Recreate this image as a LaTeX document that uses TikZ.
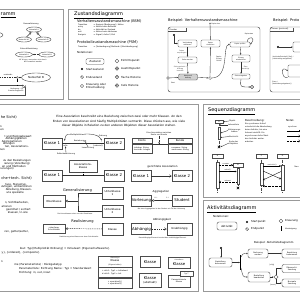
\documentclass[tikz,border=0pt]{standalone}
\usepackage{fontspec}
\setmainfont{DejaVu Sans}
\usetikzlibrary{positioning,arrows.meta,shapes.geometric}
\newcommand{\fTitle}{\fontsize{5}{6}\selectfont}
\newcommand{\fSub}{\fontsize{3.6}{4.3}\selectfont}
\newcommand{\fBox}{\fontsize{3.9}{4.6}\selectfont}
\newcommand{\fTxt}{\fontsize{2.9}{4.4}\selectfont}
\newcommand{\fSmall}{\fontsize{2.7}{3.1}\selectfont}
\newcommand{\fTiny}{\fontsize{1.9}{2.3}\selectfont}
\newcommand{\fMini}{\fontsize{1.6}{2}\selectfont}
\tikzset{
  panel/.style={draw=black!40, line width=0.9pt},
  heading/.style={font=\fTitle, anchor=west, inner sep=0pt},
  subhead/.style={font=\fSub, anchor=west, inner sep=0pt},
  cls/.style={draw=black!70, line width=0.5pt, fill=white, font=\fBox, align=center, inner sep=0pt, minimum width=20pt, minimum height=11pt},
  zstate/.style={draw=black!70, line width=0.4pt, rounded corners=1.2pt, fill=white, font=\fMini, align=center, inner sep=0.3pt},
  usecase/.style={ellipse, draw=black!70, line width=0.4pt, fill=white, font=\fMini, inner sep=0pt},
  txt/.style={font=\fTxt, align=center, inner sep=0pt},
  smalltxt/.style={font=\fSmall, inner sep=0pt},
  tnote/.style={font=\fTiny, align=center, inner sep=0pt},
  lcol/.style={font=\fSmall, anchor=east, inner sep=0pt},
  flow/.style={-{Stealth[length=1.6pt,width=1.3pt]}, line width=0.35pt, black!80},
  gen/.style={-{Triangle[open,length=2.4pt,width=2.4pt]}, line width=0.4pt, black!80},
  dot/.style={circle, fill=black, inner sep=0pt, minimum size=2.4pt},
  enddot/.style={circle, draw=black, line width=0.35pt, fill=white, inner sep=0pt, minimum size=3pt,
    path picture={\fill (path picture bounding box.center) circle (0.85pt);}},
  hollow/.style={circle, draw=black!70, line width=0.35pt, fill=white, inner sep=0pt, minimum size=2.6pt},
  pseudo/.style={circle, draw=black!70, line width=0.35pt, fill=black!15, inner sep=0pt, minimum size=3.6pt, font=\fontsize{1.8}{2}\selectfont},
  frame/.style={draw=black!70, line width=0.45pt, rounded corners=2.5pt},
  life/.style={dashed, dash pattern=on 0.8pt off 0.6pt, line width=0.3pt, black!70},
  bar/.style={draw=black!70, line width=0.35pt, fill=white, inner sep=0pt, minimum width=2.6pt},
  lifebox/.style={draw=black!70, line width=0.4pt, fill=white, font=\fTiny, inner sep=0pt, minimum width=10pt, minimum height=4pt}
}
\begin{document}
\begin{tikzpicture}[x=1pt, y=-1pt]
\useasboundingbox (0,0) rectangle (300,300);
\fill[white] (0,0) rectangle (300,300);

% Anwendungsfalldiagramm
\draw[panel] (-5,9) rectangle (63,99);
\node[heading, anchor=east] (ucTitle) at (15.8,15) {\underline{ramm}};
\draw[line width=0.4pt, black!70] (-6,35) ellipse [x radius=9, y radius=3];
\node[tnote] (ucGenLbl) at (31,23.5) {Generalisierung};
\node[usecase, minimum width=15pt, minimum height=5pt] (ucA) at (34,29.5) {Nutzerfall A};
\node[usecase, minimum width=15pt, minimum height=5pt] (ucA1) at (24,39.5) {Nutzerfall A1};
\node[usecase, minimum width=15pt, minimum height=5pt] (ucA2) at (43.5,39.5) {Nutzerfall A2};
\draw[gen] (ucA1) -- (ucA);
\draw[gen] (ucA2) -- (ucA);
\node[tnote] (ucExtLbl) at (29,49) {Extend-Beziehung};
\node[usecase, minimum width=17pt, minimum height=5pt] (ucE1) at (24,54.5) {Nutzerfall A};
\node[usecase, minimum width=16pt, minimum height=5pt] (ucE2) at (47,54.5) {Nutzerfall B};
\draw[flow, dashed, dash pattern=on 0.8pt off 0.5pt] (ucE2) -- (ucE1);
\node[tnote, font=\fMini] (ucExtTxt) at (33,61) {NF A kann, muss aber nicht durch\\NF B erweitert werden};
\coordinate (ucExtSrc) at (-5,77.5);
\node[usecase, font=\fSmall, minimum width=29pt, minimum height=9pt] (ucNB) at (36,77.5) {Nutzerfall B};
\draw[flow, dashed, dash pattern=on 1pt off 0.7pt] (ucExtSrc) -- (ucNB);
\node[tnote, anchor=south] (ucExtTag) at (8,76) {«extend»};
\node[hollow, minimum size=2pt] (ucExtPt) at (17.3,77.5) {};
\node[draw=black!70, line width=0.4pt, fill=white, font=\fMini, align=right, text width=27pt, inner sep=1pt,
  minimum width=30pt, minimum height=10pt] (ucNote) at (10,90) {Bedingung: \{x\}\\Erweiterungspunkt};
\fill[white] ([xshift=-2.5pt]ucNote.north east) -- ([xshift=0.5pt,yshift=0.5pt]ucNote.north east) -- ([yshift=-2.5pt]ucNote.north east) -- cycle;
\draw[line width=0.4pt, black!70] ([xshift=-2.5pt]ucNote.north east) -- ([yshift=-2.5pt]ucNote.north east)
  -- ([xshift=-2.5pt,yshift=-2.5pt]ucNote.north east) -- cycle;
\draw[dashed, line width=0.3pt] (ucExtPt) -- (ucExtPt |- ucNote.north);

% Zustandsdiagramm
\draw[panel] (68,9) rectangle (305,99);
\node[heading] (zdTitle) at (74,15) {\underline{Zustandsdiagramm}};
\node[subhead] (bsmHead) at (77,21) {Verhaltenszustandsmaschine (BSM)};
\node[tnote, anchor=west] (bsmK1) at (78,24.5) {Transition};
\node[tnote, anchor=west] (bsmV1) at (93,24.5) {:= Ereignis [Bedingung] / Aktion};
\node[tnote, anchor=west] (bsmK2) at (78,27) {entry};
\node[tnote, anchor=west] (bsmV2) at (93,27) {:= Aktion beim Betreten};
\node[tnote, anchor=west] (bsmK3) at (78,29.5) {do};
\node[tnote, anchor=west] (bsmV3) at (93,29.5) {:= Aktivität im Zustand};
\node[tnote, anchor=west] (bsmK4) at (78,32) {exit};
\node[tnote, anchor=west] (bsmV4) at (93,32) {:= Aktion beim Verlassen};
\node[tnote, anchor=west] (bsmK5) at (78,34.5) {Ereignis};
\node[tnote, anchor=west] (bsmV5) at (93,34.5) {:= Signal / Aufruf / Zeit};
\node[subhead] (psmHead) at (77,42.5) {Protokollzustandsmaschine (PSM)};
\node[tnote, anchor=west] (psmK1) at (78,47) {Transition};
\node[tnote, anchor=west] (psmV1) at (93,47) {:= [Vorbedingung] Methode / [Nachbedingung]};
\node[smalltxt, anchor=west] (notHead) at (77,52.5) {Notationen:};
\node[zstate, font=\fSmall, minimum width=18pt, minimum height=5.5pt] (nZust) at (95,61.5) {Zustand};
\node[dot] (nStart) at (82,69) {};
\node[smalltxt, anchor=west] (nStartL) at (86,69) {Startzustand};
\node[enddot] (nEnd) at (82,77) {};
\node[smalltxt, anchor=west] (nEndL) at (86,77) {Endzustand};
\node[diamond, draw=black!70, fill=white, line width=0.35pt, inner sep=0pt, minimum size=3.4pt] (nChoice) at (82,86) {};
\node[smalltxt, anchor=west, align=left] (nChoiceL) at (86,86) {Kreuzung oder\\Entscheidung};
\node[pseudo, fill=white] (nEntry) at (117,61) {};
\node[smalltxt, anchor=west] (nEntryL) at (121,61) {Eintrittspunkt};
\node[pseudo, path picture={\draw[line width=0.3pt] (path picture bounding box.south west) -- (path picture bounding box.north east)
  (path picture bounding box.north west) -- (path picture bounding box.south east);}] (nExit) at (117,68.5) {};
\node[smalltxt, anchor=west] (nExitL) at (121,68.5) {Austrittspunkt};
\node[pseudo] (nHist) at (117,77) {H};
\node[smalltxt, anchor=west] (nHistL) at (121,77) {flache Historie};
\node[pseudo] (nDeep) at (117,85.5) {H*};
\node[smalltxt, anchor=west] (nDeepL) at (121,85.5) {tiefe Historie};

% Beispiel BSM
\node[subhead] (bsmExTitle) at (168,21) {Beispiel: Verhaltenszustandsmaschine};
\draw[frame] (168,27) rectangle (260,92);
\node[tnote, anchor=west] (bsmTab) at (169.5,29.3) {Drucker};
\draw[line width=0.35pt, black!70] (168,31.5) -| (186,27.5);
\node[dot, minimum size=2.2pt] (bsmInit) at (174,35) {};
\node[zstate, minimum width=19pt, minimum height=7pt] (bsmS1) at (187.5,43.5) {Verbindung\\aufbauen};
\node[zstate, minimum width=19pt, minimum height=6pt] (bsmS2) at (187.5,60) {Seite drucken};
\node[zstate, fill=black!18, minimum width=19pt, minimum height=6pt] (bsmS3) at (188,77) {Warte auf\\Auftrag};
\node[zstate, minimum width=19pt, minimum height=7pt] (bsmS4) at (210.5,43.5) {Papier\\einziehen};
\node[hollow, minimum size=3pt] (bsmJunc) at (210,78) {};
\node[zstate, minimum width=20pt, minimum height=5pt] (bsmS5) at (240,44.5) {Papier prüfen};
\node[zstate, minimum width=18pt, minimum height=7pt] (bsmS6) at (241,58.5) {Einzug\\wiederholen};
\node[zstate, minimum width=18pt, minimum height=5pt] (bsmS7) at (241,76.5) {Seite ausgeben};
\node[enddot, minimum size=3.2pt] (bsmEnd) at (252,87) {};
\node[hollow, minimum size=2.6pt] (bsmEntry) at (168,78) {};
\draw[flow] (bsmInit) |- (bsmS1.west);
\draw[flow] (bsmS1) -- node[tnote, font=\fMini, left=1pt] {Daten\\empfangen} (bsmS2);
\draw[flow] (bsmS2) -- node[tnote, font=\fMini, left=1pt] {Seite gedruckt /\\Auftrag\\beendet} (bsmS3);
\draw[flow] (bsmEntry) -- (bsmS3);
\node[tnote, font=\fMini] (bsmEntryL) at (173,82.5) {Start};
\draw[flow] (bsmS3) -- (bsmJunc);
\draw[flow] (bsmJunc) -- (bsmS4);
\coordinate (bsmOut) at (210,22.5);
\draw[flow] (bsmS4) -- (bsmOut);
\node[tnote, font=\fMini, anchor=west] (bsmOutL) at (211.5,24.5) {Papier leer};
\draw[flow] (bsmJunc) .. controls (230,78) and (222,44.5) .. (bsmS5.west);
\node[tnote, font=\fMini] (bsmFehlL) at (219,58.5) {Papier-\\Einzug\\Fehler};
\draw[flow] ([xshift=-3pt]bsmS5.north east) .. controls (248,35) and (257,37) .. (bsmS5.east);
\node[tnote, font=\fMini] (bsmStauL) at (249,34.5) {Papierstau};
\draw[flow] (bsmS5) -- (bsmS6);
\draw[flow] (bsmS6) -- node[tnote, font=\fMini, right=1pt] {Stau\\beseitigt} (bsmS7);
\draw[flow] (bsmS7.south) .. controls (240,87) .. (bsmEnd);

% Beispiel PSM
\node[subhead] (psmExTitle) at (273,21) {Beispiel: Proto};
\draw[frame] (270,27) rectangle (312,92);
\node[tnote, anchor=west] (psmTab) at (271.5,29.3) {Server \{protocol\}};
\draw[line width=0.35pt, black!70] (270,31.5) -| (293,27.5);
\node[dot] (psmInit) at (278,47) {};
\node[zstate, minimum width=22pt, minimum height=10pt] (psmP1) at (304,47) {};
\draw[flow] (psmInit) -- (psmP1);
\node[tnote, font=\fMini, anchor=west, align=left] (psmT1) at (272.5,58.5) {Verbinde(Protokoll) [frei] /\\{}[Verbindung aufgebaut]};
\node[zstate, minimum width=22pt, minimum height=12pt] (psmP2) at (299,71) {};
\draw[flow] (psmP2.south west) .. controls (281,80) and (280,64) .. (psmP2.west);
\node[tnote, font=\fMini, anchor=west, align=left] (psmT2) at (272,83.5) {Close /\\{}[Verbindung abgebaut] /};

% Klassendiagramm
\draw[panel] (-5,104) rectangle (198,291);
\node[lcol, font=\fSub] (kdHead1) at (17,117) {he Sicht)};
\node[lcol] (kdL1) at (2,126.5) {n};
\node[lcol] (kdL2) at (4,130) {en};
\node[lcol] (kdL3) at (32,136.5) {t und Rückgabewert};
\node[lcol] (kdL4) at (27,139) {Abhängigkeiten};
\node[lcol] (kdL5) at (22,141.5) {Aggregationen};
\node[lcol] (kdL6) at (15,144) {ierungen};
\node[lcol] (kdL7) at (29,147) {ten, Assoziations-};
\node[lcol] (kdL8) at (5,149.5) {men};
\node[lcol] (kdL9) at (31,161) {zu den Beziehungen};
\node[lcol] (kdL10) at (30,163.5) {ierung (Vererbung)};
\node[lcol] (kdL11) at (26,166) {en und Methoden};
\node[lcol] (kdL12) at (14,168.5) {ierungen)};
\node[lcol, font=\fSub] (kdHead2) at (32,178) {che+tech. Sicht)};
\node[lcol] (kdL13) at (27,184.5) {face, Stereotyp,};
\node[lcol] (kdL14) at (32,187) {zufügen, umbenennen};
\node[lcol] (kdL15) at (32,190) {Ableitung, Klassen-};
\node[lcol] (kdL16) at (24,193) {ute spezielle};
\node[lcol] (kdL17) at (29,203) {n, Sichtbarkeiten,};
\node[lcol] (kdL18) at (12,206.5) {ationen};
\node[lcol] (kdL19) at (31,210) {geordnet / sortiert};
\node[lcol] (kdL20) at (28,213) {klassen / n-äre};
\node[lcol] (kdL21) at (29,232) {ren, getter/setter,};
\node[lcol] (kdL22) at (110,249) {ibut: Typ [Multiplizität Ordnung] = Initialwert \{Eigenschaftswerte\}};
\node[lcol] (kdL23) at (40,253) {y\}, \{ordered\}, \{composite\}};
\node[lcol] (kdL24) at (3,261.5) {n};
\node[lcol] (kdL25) at (62,265) {me (Parameterliste) : Rückgabetyp};
\node[lcol, anchor=west] (kdL26) at (19,269) {Parameterliste: Richtung Name : Typ = Standardwert};
\node[lcol, anchor=west] (kdL27) at (19,273) {Richtung: in, out, inout};

\node[txt] (assocDesc) at (119,121.5) {Eine Assoziation beschreibt eine Beziehung zwischen zwei oder mehr Klassen. An den\\
  Enden von Assoziationen sind häufig Multiplizitäten vermerkt. Diese drücken aus, wie viele\\
  dieser Objekte in Relation zu den anderen Objekten dieser Assoziation stehen.};

% Assoziation mit Beschriftung
\node[cls] (k1a) at (52,143.5) {Klasse 1};
\node[cls] (k2a) at (114,143.5) {Klasse 2};
\draw[line width=0.45pt, black!80] (k1a) -- (k2a);
\node[tnote] (mult1) at (64.5,141.3) {1};
\node[tnote] (multN) at (101.5,141.3) {*};
\node[tnote] (role1) at (65.5,145.5) {rolle};
\node[tnote] (ordN) at (98,145.5) {\{ordered\}};
\node[tnote] (multLbl) at (76,134.5) {Multiplizität};
\draw[flow] (multLbl.west) .. controls (66,134.5) .. (mult1.north);
\draw[flow] (multLbl.east) .. controls (90,133) and (100,135) .. (multN.north);
\node[tnote] (ordLbl) at (103,136) {Ordnung};
\node[tnote] (relName) at (79,141) {Beziehung};
\fill[black!80] ([xshift=0.5pt,yshift=0.9pt]relName.east) -- ([xshift=0.5pt,yshift=-0.9pt]relName.east) -- ([xshift=2.1pt]relName.east) -- cycle;
\coordinate (relDir) at ([xshift=1.2pt,yshift=-1.2pt]relName.east);
\node[tnote] (leseLbl) at (88,148) {Leserichtung};
\draw[flow] (leseLbl.north) -- (relDir);
\node[tnote] (roleLbl) at (66,154) {Rollenbezeichnung};
\draw[flow] (roleLbl.north) -- (role1.south);

% Konto und Kunde
\node[tnote] (kkDesc) at (159,133.5) {Eine Assoziation zwischen\\Konto und Kunde};
\node[cls, font=\fSmall, minimum width=20pt, minimum height=5.5pt] (konto) at (142,140.75) {Konto};
\node[cls, font=\fTiny, align=left, minimum width=20pt, minimum height=9.5pt, anchor=north] (kontoAttr) at (konto.south) {-inhaber: String\\-kontoNr: Integer};
\node[cls, font=\fSmall, minimum width=24pt, minimum height=5.5pt] (kunde) at (180,140.75) {Kunde};
\node[cls, font=\fTiny, align=left, minimum width=24pt, minimum height=9.5pt, anchor=north] (kundeAttr) at (kunde.south) {-vorname: String\\-nachname: String};
\draw[line width=0.45pt, black!80] (kontoAttr.north east) -- (kundeAttr.north west);
\draw[flow, dashed, dash pattern=on 0.8pt off 0.6pt] (kkDesc.south) -- (kkDesc.south |- kontoAttr.north);

% Assoziationsklasse
\node[cls, font=\fSmall, minimum width=28pt, minimum height=12pt] (assocCls) at (83,166) {Assoziations-\\klasse};
\node[cls] (k1b) at (52,175.5) {Klasse 1};
\node[cls] (k2b) at (114,175.5) {Klasse 2};
\draw[line width=0.45pt, black!80] (k1b) -- (k2b);
\draw[dashed, dash pattern=on 0.8pt off 0.6pt, line width=0.35pt] (assocCls.south) -- (assocCls.south |- k1b);

% gerichtete Assoziation
\node[smalltxt] (dirLbl) at (162.5,167) {gerichtete Assoziation};
\node[cls] (k1c) at (141,176) {Klasse 1};
\node[cls] (k2c) at (182,176) {Klasse 2};
\draw[-{Straight Barb[length=2pt,width=2.6pt]}, line width=0.45pt, black!80] (k1c) -- (k2c);

% Generalisierung
\node[subhead, anchor=center] (genLbl) at (77.5,191) {Generalisierung};
\node[cls, font=\fSmall, minimum width=22pt, minimum height=12pt] (ober) at (54,201) {Oberklasse};
\node[cls, font=\fSmall, minimum width=21pt, minimum height=12pt] (unter1) at (112.5,193) {Unterklasse\\1};
\node[cls, font=\fSmall, minimum width=21pt, minimum height=12pt] (unter2) at (112.5,211) {Unterklasse\\2};
\coordinate (genJoin) at (78,201);
\draw[line width=0.45pt, black!80] (unter1.west) -| (genJoin) |- (unter2.west);
\draw[gen, line width=0.45pt] (genJoin) -- (ober.east);
\node[tnote, font=\fMini] (genCap) at (75,214) {Die Unterklassen erben von der Oberklasse};

% Aggregation
\node[smalltxt] (aggLbl) at (161,192) {Aggregation};
\node[cls] (vorl) at (141.5,200.5) {Vorlesung};
\node[cls] (stud) at (182,200.5) {Student};
\draw[{Diamond[open,length=3.2pt,width=2.4pt]}-, line width=0.45pt, black!80] (vorl) -- (stud);
\node[tnote, font=\fMini] (aggM1) at (156,197.5) {0..*};
\node[tnote, font=\fMini] (aggM2) at (167.5,197.5) {1..*};
\node[tnote, font=\fMini] (aggCap) at (161.5,209.5) {Bei einer Aggregation ist der Student ein Teil der Vorlesung};

% Realisierung
\node[subhead, anchor=center] (realLbl) at (82.5,222) {Realisierung};
\node[cls, font=\fTiny, minimum width=22pt, minimum height=9.5pt] (schn) at (54,228.5) {«interface»\\Schnittstelle};
\node[cls, font=\fSmall, minimum width=21pt, minimum height=12pt] (rkl) at (112.5,229) {Klasse};
\draw[gen, dashed, dash pattern=on 1pt off 0.8pt, line width=0.45pt] (rkl) -- (schn);
\node[tnote, font=\fMini] (realCap) at (79,237.5) {Realisierung einer Klasse von einer Schnittstelle};

% Abhaengigkeit
\node[smalltxt] (depLbl) at (162,220) {Abhängigkeit};
\node[cls] (abh) at (141.5,229) {Abhängig};
\node[cls, font=\fSmall, minimum width=25pt, minimum height=12pt] (unab) at (179.5,229) {Unabhängig};
\draw[-{Straight Barb[length=2pt,width=2.6pt]}, dashed, dash pattern=on 1pt off 0.8pt, line width=0.45pt, black!80] (abh) -- (unab);
\node[tnote, font=\fMini] (depCap) at (162.5,238.5) {Das abhängige Element benutzt das unabhängige Element};

% Klassennotationen
\node[cls, font=\fSmall, minimum width=34pt, minimum height=11pt] (detKl) at (115,261.5) {\fMini«Stereotyp»\\Klasse\\\fMini\{Eigenschaften\}};
\node[cls, font=\fTiny, align=left, minimum width=34pt, minimum height=10pt, anchor=north] (detAttr) at (detKl.south) {+ attr1 : Typ1 = Initialwert\\\# attr2 : Typ2 = Init};
\node[cls, font=\fTiny, align=left, minimum width=34pt, minimum height=10pt, anchor=north] (detOps) at (detAttr.south) {+ operation1()\\+ operation2()};
\node[cls] (plainKl) at (150,262) {Klasse};
\node[cls, minimum width=22pt, minimum height=14pt] (absKl) at (150,280) {Klasse\\\fSmall(abstrakt)};
\node[cls, minimum width=22pt, minimum height=11pt] (intKl) at (179,262.5) {\fMini«interface»\\Klasse};
\node[cls, font=\fTiny, minimum width=22pt, minimum height=12pt] (parKl) at (179,281) {Parametrisierte\\Klasse};
\node[draw=black!70, dashed, dash pattern=on 0.6pt off 0.4pt, line width=0.3pt, fill=white, font=\fMini, inner sep=0pt,
  minimum width=13pt, minimum height=5pt] (parTpl) at (186.5,274) {Typ T};

% Sequenzdiagramm
\draw[panel] (203,104) rectangle (305,197);
\node[heading] (sqTitle) at (208,111) {\underline{Sequenzdiagramm}};
\node[lifebox, minimum width=8pt, minimum height=3.5pt] (sqObj) at (219,121.75) {A};
\coordinate (sqEnd) at (219,147);
\draw[life] (sqObj.south) -- (sqEnd);
\node[bar, minimum height=12pt] (sqBar) at (219,133) {};
\draw[line width=0.4pt] (217.8,145.8) -- (220.2,148.2) (217.8,148.2) -- (220.2,145.8);
\node[tnote, anchor=west] (sqLObj) at (229,121) {Objekt};
\draw[flow] (sqLObj.west) -- (sqObj.east);
\node[tnote, anchor=west] (sqLLife) at (228,125) {Lebenslinie};
\draw[flow] (sqLLife.west) -- (219.4,125);
\node[tnote, anchor=west] (sqLBar) at (228,130.5) {Aktivierungs-\\balken};
\draw[flow] (sqLBar.west) -- (sqBar.east);
\node[tnote, anchor=west] (sqLMsg) at (229,136.5) {Nachricht};
\draw[flow] (sqLMsg.west) -- (220.5,137.5);
\node[tnote, anchor=west] (sqLEnd) at (229,143) {Ende des\\Objektes};
\draw[flow] (sqLEnd.west) -- (220.5,147);
\node[smalltxt, anchor=west] (sqDescHead) at (245,121) {Beschreibung:};
\node[tnote, anchor=north west, align=left, font=\fontsize{1.9}{3}\selectfont] (sqDesc) at (245,123.3) {Ein synchroner Aufruf\\unterbricht die Abarbeitung\\beim Aufrufer, bis eine\\Antwort eintrifft. Ein\\asynchroner Aufruf lässt\\den Aufrufer weiter-\\arbeiten.};
\node[smalltxt, anchor=west] (sqNotHead) at (286,121) {Notat.};
\node[tnote, anchor=west] (sqN1) at (288,126.5) {synchron};
\coordinate (sqN1a) at (287,131);
\coordinate (sqN1b) at (301,131);
\draw[-{Triangle[length=2pt,width=2pt]}, line width=0.4pt] (sqN1a) -- (sqN1b);
\coordinate (sqN2a) at (287,136);
\coordinate (sqN2b) at (301,136);
\draw[-{Straight Barb[length=2pt,width=2.4pt]}, line width=0.4pt] (sqN2a) -- (sqN2b);
\coordinate (sqN3a) at (287,141);
\coordinate (sqN3b) at (301,141);
\draw[-{Straight Barb[length=2pt,width=2.4pt]}, dashed, dash pattern=on 0.8pt off 0.6pt, line width=0.4pt] (sqN3a) -- (sqN3b);
\node[tnote, anchor=west] (sqNNew) at (294.5,166.5) {Neu};

% Beispiel 1
\node[lifebox, minimum width=11pt] (sqA) at (217.5,156) {A};
\draw[life] (sqA.south) -- (217.5,193);
\node[bar, minimum height=26pt] (sqABar) at (217.5,175) {};
\node[lifebox] (sqB) at (238,165) {B};
\draw[life] (sqB.south) -- (238,188);
\node[bar, minimum height=16pt] (sqBBar) at (238,176.5) {};
\draw[line width=0.4pt] (236.8,186.8) -- (239.2,189.2) (236.8,189.2) -- (239.2,186.8);
\draw[-{Straight Barb[length=1.6pt,width=2pt]}, dashed, dash pattern=on 0.8pt off 0.6pt, line width=0.35pt] (sqABar.east |- sqB) -- node[tnote, font=\fMini, above=0.3pt] {«create»} (sqB.west);
\draw[-{Triangle[length=1.6pt,width=1.6pt]}, line width=0.35pt] (sqABar.east |- 0,171.5) -- node[tnote, font=\fMini, above=0.3pt] {aufruf()} (sqBBar.west |- 0,171.5);
\draw[-{Straight Barb[length=1.6pt,width=2pt]}, dashed, dash pattern=on 0.8pt off 0.6pt, line width=0.35pt] (sqBBar.west |- 0,182) -- node[tnote, font=\fMini, above=0.3pt] {antwort} (sqABar.east |- 0,182);

% Beispiel 2
\node[lifebox, minimum width=11pt] (sqC) at (261.5,156) {C};
\node[lifebox, minimum width=11pt] (sqD) at (282.5,156) {D};
\draw[life] (sqC.south) -- (261.5,193);
\draw[life] (sqD.south) -- (282.5,193);
\node[bar, minimum height=22pt] (sqCBar) at (261.5,174) {};
\node[bar, minimum height=25pt] (sqDBar) at (282.5,177.5) {};
\draw[-{Triangle[length=1.6pt,width=1.6pt]}, line width=0.35pt] (sqCBar.east |- 0,166) -- node[tnote, font=\fMini, above=0.3pt] {nachricht()} (sqDBar.west |- 0,166);
\draw[-{Straight Barb[length=1.6pt,width=2pt]}, line width=0.35pt] (sqCBar.east |- 0,171) -- (sqDBar.west |- 0,179);
\draw[-{Straight Barb[length=1.6pt,width=2pt]}, line width=0.35pt] (sqDBar.west |- 0,171.5) -- (sqCBar.east |- 0,180);
\draw[-{Straight Barb[length=1.6pt,width=2pt]}, dashed, dash pattern=on 0.8pt off 0.6pt, line width=0.35pt] (sqDBar.west |- 0,186) -- (sqCBar.east |- 0,186);

% Aktivitaetsdiagramm
\draw[panel] (203,200) rectangle (305,291);
\node[heading] (adTitle) at (207,209) {\underline{Aktivitätsdiagramm}};
\node[smalltxt, anchor=west] (adNotHead) at (213,216) {Notationen:};
\node[zstate, font=\fSmall, minimum width=20pt, minimum height=8pt, rounded corners=2pt] (adAct) at (227,226) {Aktivität};
\node[dot] (adStart) at (247,222) {};
\node[smalltxt, anchor=west] (adStartL) at (251,222) {Startpunkt};
\node[enddot] (adEnd) at (247,229) {};
\node[smalltxt, anchor=west] (adEndL) at (251,229) {Endpunkt};
\node[diamond, draw=black!70, fill=white, line width=0.35pt, inner sep=0pt, minimum size=4pt] (adDec) at (281,221) {};
\node[smalltxt, anchor=west] (adDecL) at (285,221) {Kreuzung};
\draw[line width=0.8pt] (281,226) -- (281,231);
\node[tnote, anchor=west] (adBarL) at (285,228.5) {Vereinigung};
\node[smalltxt, anchor=west] (adExTitle) at (254,243) {Beispiel: Aktivitätsdiagramm};
\node[dot] (aStart) at (221,248) {};
\node[zstate, font=\fTiny, minimum width=23pt, minimum height=9pt, rounded corners=2pt] (aRecv) at (220.5,262.5) {Bestellung\\bekommen};
\draw[flow] (aStart) -- (aStart |- aRecv.north);
\coordinate (aForkTop) at (240.5,255);
\coordinate (aForkBot) at (240.5,270);
\draw[line width=1pt] (aForkTop) -- (aForkBot);
\draw[flow] (aRecv.east) -- (240,262.5);
\node[zstate, font=\fTiny, minimum width=20pt, minimum height=9pt, rounded corners=2pt] (aRech) at (258,253.5) {Rechnung\\senden};
\node[zstate, font=\fTiny, minimum width=22pt, minimum height=10pt, rounded corners=2pt] (aBear) at (259,277) {Bestellung\\bearbeiten};
\draw[flow] (241,257) .. controls (243,253.5) .. (aRech.west);
\draw[flow] (241,268) .. controls (243,277) .. (aBear.west);
\node[zstate, font=\fTiny, minimum width=20pt, minimum height=9pt, rounded corners=2pt] (aBez) at (292,253.5) {Bezahlung\\bekommen};
\draw[flow] (aRech) -- (aBez);
\node[diamond, draw=black!70, fill=white, line width=0.35pt, inner sep=0pt, minimum size=4.5pt] (aDec) at (276,277) {};
\draw[flow] (aBear) -- (aDec);
\node[zstate, font=\fTiny, minimum width=20pt, minimum height=8pt, rounded corners=2pt] (aUeber) at (292,268.5) {Übernacht-\\Sendung};
\node[zstate, font=\fTiny, minimum width=20pt, minimum height=8pt, rounded corners=2pt] (aNorm) at (292,283) {Normale\\Sendung};
\draw[flow] (aDec.north) |- (aUeber.west);
\draw[flow] (aDec.south) |- (aNorm.west);
\node[tnote, font=\fMini] (aG1) at (272,265) {[eilig]};
\node[tnote, font=\fMini] (aG2) at (273,284.5) {[sonst]};
\end{tikzpicture}
\end{document}
